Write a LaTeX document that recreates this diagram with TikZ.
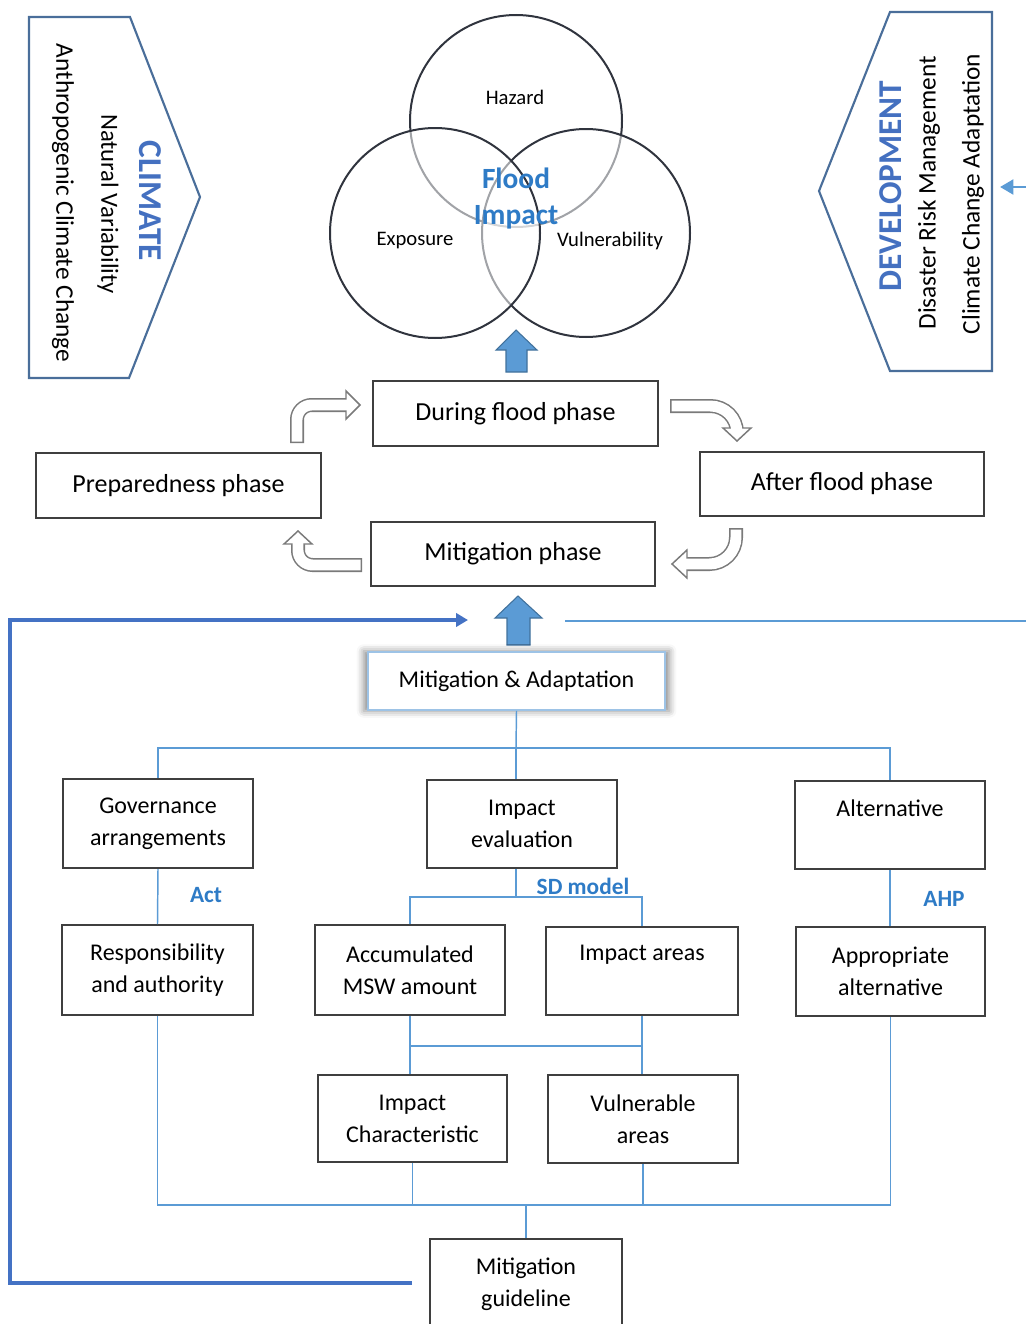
\documentclass[tikz,border=0pt]{standalone}
\usepackage{fontspec}
\setmainfont{Carlito}
\usetikzlibrary{shadows.blur,arrows.meta}

\definecolor{boxline}{HTML}{3F3F3F}
\definecolor{penline}{HTML}{4A6E9A}
\definecolor{lblue}{HTML}{5B9BD5}
\definecolor{dblue}{HTML}{4472C4}
\definecolor{tblue}{HTML}{2E7BC6}
\definecolor{headblue}{HTML}{4470C0}
\definecolor{circline}{HTML}{30343E}
\definecolor{arrgray}{HTML}{7A7A7A}
\definecolor{arrowedge}{HTML}{41719C}
\definecolor{maline}{HTML}{9DC3E6}

\begin{document}
\begin{tikzpicture}[x=0.75pt,y=-0.75pt,
  box/.style={draw=boxline, line width=1.5pt, inner sep=0pt, align=center,
    font=\fontsize{18}{24}\selectfont},
  phase/.style={box, font=\fontsize{19.5}{24}\selectfont},
  pent/.style={draw=penline, line width=1.6pt, line join=miter},
  tree/.style={draw=lblue, line width=1.1pt},
  lbl/.style={text=tblue, font=\bfseries\fontsize{17.5}{20}\selectfont},
  circ/.style={draw=circline, line width=1.5pt, fill=white, fill opacity=0.55},
  blockarrow/.style={fill=lblue, draw=arrowedge, line width=0.8pt},
  hollowout/.style={draw=arrgray, line width=10.5pt, rounded corners=#1},
  hollowin/.style={draw=white, line width=8.2pt, rounded corners=#1},
  hollowhead/.style={fill=white, draw=arrgray, line width=1.1pt, line join=miter},
  feed/.style={line width=3pt, draw=dblue},
]
\useasboundingbox (0,0) rectangle (1025,1324);

% ---------- driver panels ----------
\draw[pent] (29,17) -- (130,17) -- (200,197) -- (129,378) -- (29,378) -- cycle;
\node[rotate=-90, text=headblue, font=\bfseries\fontsize{25}{30}\selectfont] (climate) at (150,201) {CLIMATE};
\node[rotate=-90, font=\fontsize{18.5}{22}\selectfont] (natvar) at (108,204) {Natural Variability};
\node[rotate=-90, font=\fontsize{19}{22}\selectfont] (anthro) at (63,203) {Anthropogenic Climate Change};

\draw[pent] (890,12) -- (992,12) -- (992,371) -- (890,371) -- (819,191) -- cycle;
\node[rotate=90, text=headblue, font=\bfseries\fontsize{25}{30}\selectfont] (devel) at (891,186) {DEVELOPMENT};
\node[rotate=90, font=\fontsize{19}{22}\selectfont] (drm) at (929,193) {Disaster Risk Management};
\node[rotate=90, font=\fontsize{19}{22}\selectfont] (cca) at (973,194) {Climate Change Adaptation};

% ---------- flood impact circles ----------
\draw[circ] (516,121) circle[radius=106];
\draw[circ] (586,233) circle[radius=104];
\draw[circ] (435,233) circle[radius=105];
\node[font=\fontsize{15.5}{18}\selectfont] (hazard) at (515,97) {Hazard};
\node[font=\fontsize{15.5}{18}\selectfont] (exposure) at (415,241) {Exposure};
\node[font=\fontsize{15.5}{18}\selectfont] (vulner) at (610,241) {Vulnerability};
\node[text=tblue, align=center, font=\bfseries\fontsize{22}{27}\selectfont] (flood) at (516,199) {Flood\\Impact};

% ---------- flood cycle ----------
\node[phase, minimum width=213.75pt, minimum height=48.75pt] (during) at (515.5,413.5) {During flood phase};
\node[phase, minimum width=213.75pt, minimum height=48.75pt] (prep) at (178.5,485.5) {Preparedness phase};
\node[phase, minimum width=213pt, minimum height=48pt] (after) at (842,484) {After flood phase};
\node[phase, minimum width=213pt, minimum height=48pt] (mitp) at (513,554) {Mitigation phase};

\draw[blockarrow] (506,372) -- (506,350) -- (496,350) -- (516,330) -- (537,350) -- (527,350) -- (527,372) -- cycle;

% hollow bent arrows between the phases
\draw[hollowout=11] (297,443) -- (297,405) -- (346,405);
\draw[hollowhead] (346,391) -- (360,405) -- (346,419) -- cycle;
\draw[hollowin=11] (297,441.5) -- (297,405) -- (348,405);

\draw[hollowout=20] (670,406) -- (737,406) -- (737,428);
\draw[hollowhead] (723,428) -- (737,441) -- (751,428) -- cycle;
\draw[hollowin=20] (671.5,406) -- (737,406) -- (737,430);

\draw[hollowout=20] (736,528) -- (736,564) -- (687,564);
\draw[hollowhead] (687,550) -- (672,564) -- (687,578) -- cycle;
\draw[hollowin=20] (736,529.5) -- (736,564) -- (685,564);

\draw[hollowout=11] (362,565) -- (298,565) -- (298,544);
\draw[hollowhead] (284,544) -- (298,531) -- (312,544) -- cycle;
\draw[hollowin=11] (360.5,565) -- (298,565) -- (298,542);

% ---------- mitigation & adaptation ----------
\draw[blockarrow] (507,645) -- (507,618) -- (495,618) -- (518,596) -- (542,618) -- (530,618) -- (530,645) -- cycle;

\node[draw=maline, line width=1.2pt, fill=white, inner sep=0pt,
  minimum width=222.75pt, minimum height=43.5pt,
  blur shadow={shadow xshift=0pt, shadow yshift=0pt, shadow scale=1.03,
    shadow blur radius=5pt, shadow opacity=45},
  font=\fontsize{18}{22}\selectfont] (ma) at (516.5,681) {Mitigation \& Adaptation};

\node[box, minimum width=142.5pt, minimum height=66.75pt] (gov) at (158,823.5) {Governance\\arrangements};
\node[box, minimum width=142.5pt, minimum height=66pt] (imp) at (522,824) {Impact\\evaluation};
\node[box, minimum width=142.5pt, minimum height=66pt] (alt) at (890,825) {};
\node[font=\fontsize{18}{24}\selectfont] (alttext) at (890,808) {Alternative};

\node[box, minimum width=143.25pt, minimum height=67.5pt] (resp) at (157.5,970) {Responsibility\\and authority};
\node[box, minimum width=142.5pt, minimum height=67.5pt] (acc) at (410,970) {Accumulated\\MSW amount};
\node[box, minimum width=144pt, minimum height=66pt] (areas) at (642,971) {};
\node[font=\fontsize{18}{24}\selectfont] (areastext) at (642,955) {Impact areas};
\node[box, minimum width=141.75pt, minimum height=66.75pt] (app) at (890.5,971.5) {Appropriate\\alternative};

\node[box, minimum width=141.75pt, minimum height=65.25pt] (ichar) at (412.5,1118.5) {Impact\\Characteristic};
\node[box, minimum width=142.5pt, minimum height=66pt] (vul) at (643,1119) {Vulnerable\\areas};

\node[box, minimum width=144pt, minimum height=80pt, anchor=north] (guide) at (526,1238) {};
\node[font=\fontsize{18}{24}\selectfont, align=center] (guidetext) at (526,1284) {Mitigation\\guideline};

% ---------- tree connectors ----------
\coordinate (j1) at (516,748);
\draw[tree] (ma.south) -- (j1);
\draw[tree] (gov.north) |- (j1) -| (alt.north);
\draw[tree] (j1) -- (j1 |- imp.north);

\draw[tree] (gov.south) -- (resp.north);
\node[lbl] (act) at (206,895) {Act};

\coordinate (j2) at (516,897);
\draw[tree] (imp.south -| j2) -- (j2);
\draw[tree] (acc.north) |- (j2) -| (areas.north);
\node[lbl] (sdm) at (583,886) {SD model};

\draw[tree] (alt.south) -- (alt.south |- app.north);
\node[lbl] (ahp) at (944,899) {AHP};

\coordinate (j3) at (525,1046);
\draw[tree] (acc.south) -- (acc.south |- ichar.north);
\draw[tree] (areas.south) -- (areas.south |- vul.north);
\draw[tree] (acc.south |- j3) -- (areas.south |- j3);

\coordinate (j4) at (526,1205);
\draw[tree] (resp.south) |- (j4) -| (app.south);
\draw[tree] (ichar.south) -- (ichar.south |- j4);
\draw[tree] (vul.south) -- (vul.south |- j4);
\draw[tree] (j4) -- (guide.north);

% ---------- feedback lines ----------
\coordinate (fbstart) at (412,1283);
\coordinate (fbend) at (468,620);
\draw[feed, -{Triangle[length=9pt,width=10pt]}] (fbstart) -- (10,1283) -- (10,620) -- (fbend);

\coordinate (devin) at (1000,187);
\draw[line width=2.2pt, draw=lblue] (565,621) -- (1030,621);
\draw[line width=2.2pt, draw=lblue, -{Triangle[length=10pt,width=11pt]}] (1030,187) -- (devin);
\end{tikzpicture}
\end{document}
